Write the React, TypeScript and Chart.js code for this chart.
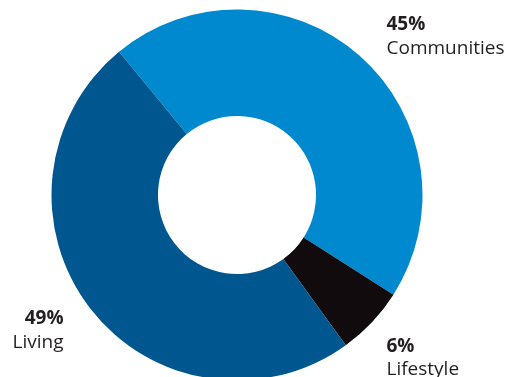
import React, { useEffect, useRef } from "react";
import { Chart, registerables } from "chart.js";

Chart.register(...registerables);

const categories = ["Communities", "Lifestyle", "Living"];
const values = [45, 6, 49];
const colors = ["#0089CF", "#110B0E", "#00568E"];

// label anchors (text layout only)
const labelLayout = [
  { x: 386.5, y: 30, align: "left" },
  { x: 386.5, y: 351.5, align: "left" },
  { x: 63.5, y: 324, align: "right" },
];

const labelPlugin = {
  id: "sliceLabels",
  afterDraw(chart: any) {
    const ctx = chart.ctx;
    ctx.save();
    ctx.fillStyle = "#231F20";
    ctx.textBaseline = "alphabetic";
    categories.forEach((cat, i) => {
      const l = labelLayout[i];
      ctx.textAlign = l.align;
      ctx.font = "bold 19px 'Open Sans'";
      ctx.fillText(values[i] + "%", l.x, l.y);
      ctx.font = "19px 'Open Sans'";
      ctx.fillText(cat, l.x, l.y + 23.5);
    });
    ctx.restore();
  },
};

export default function App() {
  const ref = useRef<HTMLCanvasElement>(null);
  useEffect(() => {
    const chart = new Chart(ref.current as HTMLCanvasElement, {
      type: "doughnut",
      data: {
        labels: categories,
        datasets: [
          {
            data: values,
            backgroundColor: colors,
            borderWidth: 0,
          },
        ],
      },
      options: {
        responsive: false,
        animation: false,
        rotation: -39.5,
        radius: 185.5,
        cutout: "42.6%",
        layout: { padding: { left: 0, right: 35, top: 0, bottom: 0 } },
        plugins: {
          legend: { display: false },
          tooltip: { enabled: false },
        },
      },
      plugins: [labelPlugin],
    });
    return () => chart.destroy();
  }, []);
  return (
    <div
      style={{
        position: "fixed",
        left: 0,
        top: 0,
        width: 509,
        height: 377,
        overflow: "hidden",
        background: "#fff",
      }}
    >
      <canvas ref={ref} width={509} height={390} style={{ display: "block" }} />
    </div>
  );
}
